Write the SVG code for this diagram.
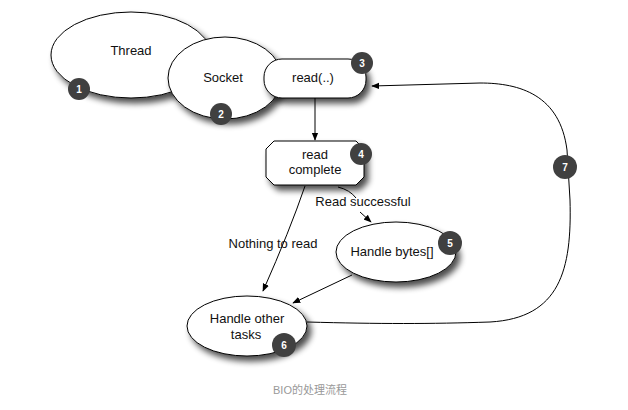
<svg xmlns="http://www.w3.org/2000/svg" width="628" height="410" viewBox="0 0 628 410">
<defs>
<filter id="sh" x="-20%" y="-20%" width="150%" height="160%">
<feGaussianBlur in="SourceAlpha" stdDeviation="3"/>
<feOffset dx="4" dy="5" result="b"/>
<feComponentTransfer><feFuncA type="linear" slope="0.7"/></feComponentTransfer>
<feMerge><feMergeNode/><feMergeNode in="SourceGraphic"/></feMerge>
</filter>
<marker id="ah" viewBox="0 0 10 10" refX="9" refY="5" markerWidth="8" markerHeight="8" orient="auto" markerUnits="userSpaceOnUse">
<path d="M0,1 L10,5 L0,9 Z" fill="#000"/>
</marker>
</defs>
<style>
.n{fill:#fff;stroke:#000;stroke-width:1;filter:url(#sh)}
.t{font-family:"Liberation Sans",Arial,sans-serif;font-size:13px;fill:#111;text-anchor:middle}
.b{fill:#404040}
.bt{font-family:"Liberation Sans",Arial,sans-serif;font-size:10px;font-weight:bold;fill:#fff;text-anchor:middle}
.c{fill:none;stroke:#000;stroke-width:1}
</style>
<rect width="628" height="410" fill="#fff"/>
<g id="thread">
<ellipse class="n" cx="131" cy="55" rx="80" ry="43"/>
<text class="t" x="131" y="55">Thread</text>
<circle class="b" cx="79" cy="89" r="11"/><text class="bt" x="79" y="93">1</text>
</g>
<g id="socket">
<ellipse class="n" cx="225" cy="78" rx="57" ry="41"/>
<text class="t" x="223" y="82">Socket</text>
<circle class="b" cx="221" cy="114" r="11"/><text class="bt" x="221" y="118">2</text>
</g>
<g id="read">
<rect class="n" x="264" y="59" width="102" height="39" rx="18" ry="18"/>
<text class="t" x="313" y="82">read(..)</text>
<circle class="b" cx="362" cy="63" r="11"/><text class="bt" x="362" y="67">3</text>
</g>
<g id="complete">
<path class="n" d="M274,141 L356,141 L364,149 L364,177 L356,185 L274,185 L266,177 L266,149 Z"/>
<text class="t" x="315" y="159">read</text>
<text class="t" x="315" y="174">complete</text>
<circle class="b" cx="361" cy="154" r="11"/><text class="bt" x="361" y="158">4</text>
</g>
<g id="bytes">
<ellipse class="n" cx="396" cy="252" rx="60" ry="30"/>
<text class="t" x="392" y="256">Handle bytes[]</text>
<circle class="b" cx="450" cy="243" r="12"/><text class="bt" x="450" y="247">5</text>
</g>
<g id="other">
<ellipse class="n" cx="247" cy="326" rx="60" ry="30"/>
<text class="t" x="247" y="323">Handle other</text>
<text class="t" x="246" y="339">tasks</text>
<circle class="b" cx="284" cy="345" r="12"/><text class="bt" x="284" y="349">6</text>
</g>
<g id="connectors">
<path class="c" d="M315,98 L315,140" marker-end="url(#ah)"/>
<path class="c" d="M305,186 Q290,230 263,291" marker-end="url(#ah)"/>
<path class="c" d="M338,187 Q350,190 356,198"/>
<path class="c" d="M360,212 L371,222" marker-end="url(#ah)"/>
<path class="c" d="M352,275 L293,303" marker-end="url(#ah)"/>
<path class="c" d="M307,322 C380,324 430,324 490,322 C560,318 572,270 570,200 L567,150 C560,95 520,83 480,83 L372,86" marker-end="url(#ah)"/>
<text class="t" x="363" y="206">Read successful</text>
<text class="t" x="273" y="248">Nothing to read</text>
</g>
<g id="badge7">
<circle class="b" cx="565" cy="167" r="12"/><text class="bt" x="565" y="171">7</text>
</g>
<text x="310" y="394" style="font-family:'Liberation Sans','Noto Sans CJK SC',sans-serif;font-size:11px;fill:#999;text-anchor:middle">BIO的处理流程</text>
</svg>
